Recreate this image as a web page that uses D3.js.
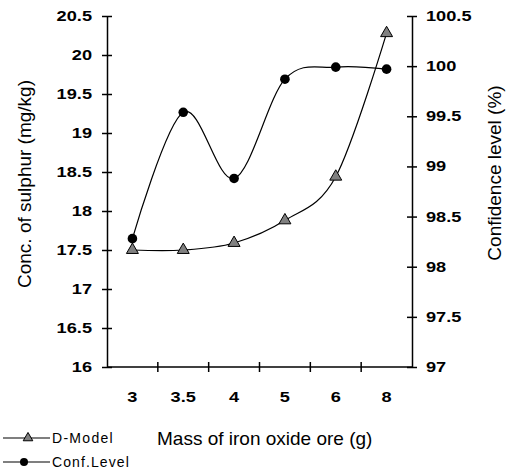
<!DOCTYPE html>
<html>
<head>
<meta charset="utf-8">
<script src="https://cdn.jsdelivr.net/npm/d3@7"></script>
<style>
  body { margin: 0; background: #fff; }
  text { font-family: "Liberation Sans", Arial, sans-serif; fill: #000; }
</style>
</head>
<body>
<div id="chart"></div>
<script>
// data
var masses = ["3", "3.5", "4", "5", "6", "8"];
var dModel = [17.5, 17.5, 17.59, 17.88, 18.44, 20.28];
var confLevel = [98.28, 99.54, 98.88, 99.87, 99.99, 99.97];
var leftTicks = [16, 16.5, 17, 17.5, 18, 18.5, 19, 19.5, 20, 20.5];
var rightTicks = [97, 97.5, 98, 98.5, 99, 99.5, 100, 100.5];

var W = 506, H = 470;
var plot = {left: 107, right: 412, top: 16, bottom: 367};

var svg = d3.select("#chart").append("svg")
  .attr("width", W)
  .attr("height", H);

var x = d3.scaleBand().domain(masses).range([plot.left, plot.right]).padding(0);
var yL = d3.scaleLinear().domain([16, 20.5]).range([plot.bottom, plot.top]);
var yR = d3.scaleLinear().domain([97, 100.5]).range([plot.bottom, plot.top]);
var cx = d => x(d) + x.bandwidth() / 2;

// left axis
var leftAxis = d3.axisLeft(yL).tickValues(leftTicks).tickFormat(d => String(d))
  .tickSizeInner(5).tickSizeOuter(0);
var gl = svg.append("g").attr("transform", `translate(${plot.left},0)`).call(leftAxis);
gl.selectAll(".tick line").attr("x1", 5).attr("stroke-width", 1.5);
gl.select(".domain").attr("stroke-width", 1.5);
gl.selectAll(".tick text")
  .attr("x", 0)
  .attr("transform", "translate(-15,0) scale(1.3,1)")
  .style("font-size", "14px").style("font-weight", "bold");

// right axis
var rightAxis = d3.axisRight(yR).tickValues(rightTicks).tickFormat(d => String(d))
  .tickSizeInner(5).tickSizeOuter(0);
var gr = svg.append("g").attr("transform", `translate(${plot.right},0)`).call(rightAxis);
gr.selectAll(".tick line").attr("x1", -5).attr("stroke-width", 1.5);
gr.select(".domain").attr("stroke-width", 1.5);
gr.selectAll(".tick text")
  .attr("x", 0)
  .attr("transform", "translate(14,0) scale(1.3,1)")
  .style("font-size", "14px").style("font-weight", "bold");

// bottom axis (ticks between categories)
var gb = svg.append("g");
gb.append("line")
  .attr("x1", plot.left).attr("x2", plot.right)
  .attr("y1", plot.bottom).attr("y2", plot.bottom)
  .attr("stroke", "#000").attr("stroke-width", 1.5);
gb.selectAll(".xtick").data(masses.slice(1)).join("line")
  .attr("x1", d => x(d)).attr("x2", d => x(d))
  .attr("y1", plot.bottom - 5).attr("y2", plot.bottom + 5)
  .attr("stroke", "#000").attr("stroke-width", 1.5);
gb.selectAll(".xlab").data(masses).join("text")
  .attr("transform", d => `translate(${cx(d)},402) scale(1.3,1)`)
  .attr("text-anchor", "middle")
  .style("font-size", "14px").style("font-weight", "bold")
  .text(d => d);

// axis titles
svg.append("text")
  .attr("transform", "translate(31,184) rotate(-90)")
  .attr("text-anchor", "middle")
  .style("font-size", "19px")
  .text("Conc. of sulphur (mg/kg)");

svg.append("text")
  .attr("transform", "translate(501,173) rotate(-90)")
  .attr("text-anchor", "middle")
  .style("font-size", "19px")
  .text("Confidence level (%)");

svg.append("text")
  .attr("x", 157).attr("y", 445)
  .style("font-size", "19px")
  .text("Mass of iron oxide ore (g)");

// lines
var dData = masses.map((m, i) => ({m: m, v: dModel[i]}));
var cData = masses.map((m, i) => ({m: m, v: confLevel[i]}));

var lineD = d3.line().x(d => cx(d.m)).y(d => yL(d.v)).curve(d3.curveCardinal.tension(0));
var lineC = d3.line().x(d => cx(d.m)).y(d => yR(d.v)).curve(d3.curveCardinal.tension(0));

svg.append("path").datum(dData).attr("d", lineD)
  .attr("fill", "none").attr("stroke", "#000").attr("stroke-width", 1.2);
svg.append("path").datum(cData).attr("d", lineC)
  .attr("fill", "none").attr("stroke", "#000").attr("stroke-width", 1.2);

var tri = d3.symbol().type(d3.symbolTriangle).size(62);
svg.selectAll(".tri").data(dData).join("path")
  .attr("d", tri)
  .attr("transform", d => `translate(${cx(d.m)},${yL(d.v)})`)
  .attr("fill", "#808080").attr("stroke", "#000").attr("stroke-width", 1);

svg.selectAll(".dot").data(cData).join("circle")
  .attr("cx", d => cx(d.m)).attr("cy", d => yR(d.v)).attr("r", 4.8)
  .attr("fill", "#000");

// legend
var leg = svg.append("g");
leg.append("line").attr("x1", 3).attr("x2", 50).attr("y1", 438).attr("y2", 438)
  .attr("stroke", "#000").attr("stroke-width", 1.2);
leg.append("path").attr("d", d3.symbol().type(d3.symbolTriangle).size(40))
  .attr("transform", "translate(28,438)")
  .attr("fill", "#808080").attr("stroke", "#000").attr("stroke-width", 1);
leg.append("text").attr("x", 52).attr("y", 443)
  .style("font-size", "14px").style("letter-spacing", "1.3px")
  .text("D-Model");

leg.append("line").attr("x1", 3).attr("x2", 50).attr("y1", 462).attr("y2", 462)
  .attr("stroke", "#000").attr("stroke-width", 1.2);
leg.append("circle").attr("cx", 24).attr("cy", 462).attr("r", 4)
  .attr("fill", "#000");
leg.append("text").attr("x", 52).attr("y", 467)
  .style("font-size", "14px").style("letter-spacing", "1.1px")
  .text("Conf.Level");
</script>
</body>
</html>
